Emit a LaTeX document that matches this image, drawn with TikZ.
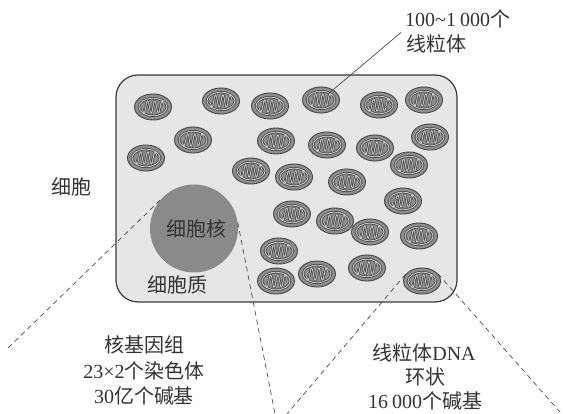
\documentclass[tikz,border=0pt]{standalone}
\usepackage{fontspec}
\setmainfont{Liberation Serif}
\newfontfamily\cjk{Noto Sans CJK SC}
\newcommand\zhtext[1]{{\cjk #1}}
\usetikzlibrary{shapes.geometric,calc}

\definecolor{ink}{HTML}{333333}
\definecolor{cellfill}{HTML}{E6E6E6}
\definecolor{cellline}{HTML}{3A3A3A}
\definecolor{nucfill}{HTML}{8A8A8A}
\definecolor{mitofill}{HTML}{8F8F8F}
\definecolor{mitoline}{HTML}{454545}
\definecolor{cristae}{HTML}{C8C8C8}
\definecolor{guideline}{HTML}{4A4A4A}

\begin{document}
\begin{tikzpicture}[x=1pt,y=-1pt,
  lbl/.style={text=ink,inner sep=0pt,font=\fontsize{20}{25}\selectfont,anchor=base},
  cellbox/.style={rectangle,draw=cellline,fill=cellfill,line width=1.2pt,
    rounded corners=22pt,minimum width=341pt,minimum height=227pt,inner sep=0pt},
  nucleus/.style={circle,fill=nucfill,minimum size=88pt,inner sep=0pt},
  mito/.style={ellipse,draw=mitoline,fill=mitofill,line width=0.9pt,
    minimum width=37pt,minimum height=26pt,inner sep=0pt,
    path picture={
      \begin{scope}[shift={(path picture bounding box.center)}]
        \foreach \w/\c in {2.4pt/mitoline,0.9pt/cristae}{
          \draw[line width=\w,color=\c] (0,0) ellipse [x radius=14pt,y radius=8.8pt];
          \draw[line width=\w,color=\c,line join=round]
            plot[domain=-10.5:10.5,samples=45,smooth] ({\x*1pt},{6.3pt*sin(\x*50)});
        }
      \end{scope}
    }},
  callout/.style={draw=guideline,line width=0.7pt,dash pattern=on 5pt off 4pt},
  pointer/.style={draw=guideline,line width=0.7pt}
]
\useasboundingbox (0,0) rectangle (563,414);

% cell body and nucleus
\node[cellbox] (cell) at (286.5,188.5) {};
\node[nucleus] (nuc) at (194,228.5) {};

% mitochondria
\foreach \i/\px/\py in {
   1/153/107,  2/221/101,  3/270/106,  4/321/100,  5/379/105,  6/424/100,
   7/193/140,  8/146/158,  9/276/141, 10/327/145, 11/375/148, 12/430/137,
  13/251/171, 14/294/177, 15/347/182, 16/409/165, 17/403/201, 18/292/214,
  19/335/221, 20/370/232, 21/419/236, 22/279/251, 23/276/281, 24/317/274,
  25/367/268, 26/422/281}
  \node[mito] (m\i) at (\px,\py) {};

% labels
\node[lbl,anchor=base west] (cnt) at (405,27) {100\textasciitilde1\hspace{4pt}000\zhtext{个}};
\node[lbl,anchor=base west] (mt) at (406,51.5) {\zhtext{线粒体}};
\node[lbl] (cl) at (71,194.5) {\zhtext{细胞}};
\node[lbl,text=black!80] (nl) at (196,236.5) {\zhtext{细胞核}};
\node[lbl] (cyt) at (177,292.5) {\zhtext{细胞质}};
\node[lbl] (g1) at (144,352.5) {\zhtext{核基因组}};
\node[lbl] (g2) at (144,379) {23×2\zhtext{个染色体}};
\node[lbl] (g3) at (144,403) {30\zhtext{亿个碱基}};
\node[lbl] (d1) at (424,360.5) {\zhtext{线粒体}DNA};
\node[lbl] (d2) at (425,384.5) {\zhtext{环状}};
\node[lbl] (d3) at (425,409) {16\hspace{4pt}000\zhtext{个碱基}};

% callout cones
\coordinate (cL) at (8,348);
\coordinate (cR) at (275,414);
\coordinate (dL) at (287,414);
\coordinate (dR) at (560,412);
\draw[callout] (nuc.140) -- (cL);
\draw[callout] (nuc.8) -- (cR);
\draw[callout] (m26.158) -- (dL);
\draw[callout] (m26.24) -- (dR);

% pointer to one mitochondrion
\draw[pointer,shorten >=9pt] ($(mt.north west)+(-5,-2)$) -- (m4.center);
\end{tikzpicture}
\end{document}
